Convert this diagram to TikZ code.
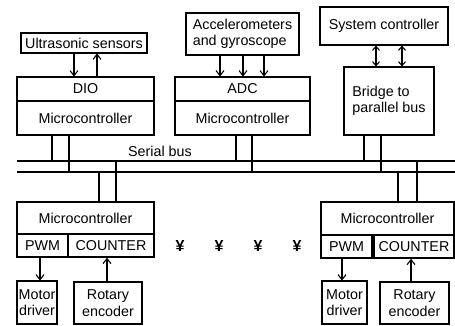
\documentclass[tikz,border=0pt]{standalone}
\usepackage{fontspec}
\setmainfont{Liberation Sans}
\usetikzlibrary{arrows.meta}
\begin{document}
\begin{tikzpicture}[x=1pt,y=-1pt,
  every node/.style={font=\fontsize{14.3}{16.5}\selectfont},
  box/.style={draw, line width=1.1pt, inner sep=1pt, rectangle},
  subbox/.style={draw, line width=1.6pt, inner sep=1pt, rectangle},
  wire/.style={line width=1.1pt},
  arr/.style={line width=1.1pt, -{Straight Barb[length=5pt,width=8pt,line width=1.1pt]}},
  darr/.style={line width=1.1pt, {Straight Barb[length=4pt,width=7pt,line width=1.1pt]}-{Straight Barb[length=4pt,width=7pt,line width=1.1pt]}},
  yenmark/.style={font=\fontsize{16}{18}\selectfont\bfseries}]
\useasboundingbox (0,0) rectangle (455,325);
\clip (0,0) rectangle (455,325);
\fill[white] (0,0) rectangle (455,325);

% upper modules
\node[box, minimum width=126pt, minimum height=20pt] (us) at (84,43) {Ultrasonic sensors};
\node[box, minimum width=137pt, minimum height=24pt] (dio) at (85.5,89) {DIO};
\node[box, minimum width=137pt, minimum height=34pt] (mc1) at (85.5,118) {Microcontroller};

\node[box, minimum width=113pt, minimum height=42pt, align=left] (acc) at (242.5,34) {Accelerometers\\and gyroscope};
\node[box, minimum width=135pt, minimum height=24pt] (adc) at (242.5,89) {ADC};
\node[box, minimum width=135pt, minimum height=34pt] (mc2) at (242.5,118) {Microcontroller};

\node[box, minimum width=128pt, minimum height=38pt] (sys) at (384,26) {System controller};
\node[box, minimum width=90pt, minimum height=68pt, align=left] (bridge) at (389,101) {Bridge to\\parallel bus};

% serial bus
\coordinate (b1w) at (17,161);
\coordinate (b1e) at (455,161);
\coordinate (b2w) at (17,172);
\coordinate (b2e) at (455,172);
\draw[wire] (b1w) -- (b1e);
\draw[wire] (b2w) -- (b2e);
\node (buslabel) at (160,151) {Serial bus};

% lower modules
\node[box, minimum width=137pt, minimum height=32pt] (mc3) at (85.5,218) {Microcontroller};
\node[subbox, minimum width=51pt, minimum height=23pt] (pwm1) at (42.5,245.5) {PWM};
\node[subbox, minimum width=86pt, minimum height=23pt] (cnt1) at (111,245.5) {COUNTER};

\node[box, minimum width=133pt, minimum height=33pt] (mc4) at (387.5,218.5) {Microcontroller};
\node[subbox, minimum width=51pt, minimum height=23pt] (pwm2) at (346.5,246.5) {PWM};
\node[subbox, minimum width=80pt, minimum height=23pt] (cnt2) at (414,246.5) {COUNTER};

\node[box, minimum width=40pt, minimum height=43pt, inner xsep=0pt, align=center] (md1) at (37,302.5) {Motor\\driver};
\node[box, minimum width=68pt, minimum height=42pt, align=center] (re1) at (108,303) {Rotary\\encoder};
\node[box, minimum width=45pt, minimum height=43pt, inner xsep=0pt, align=center] (md2) at (344.5,302.5) {Motor\\driver};
\node[box, minimum width=69pt, minimum height=42pt, align=center] (re2) at (414.5,303) {Rotary\\encoder};

% marks
\node[yenmark] (y1) at (180,246) {¥};
\node[yenmark] (y2) at (219,246) {¥};
\node[yenmark] (y3) at (258,246) {¥};
\node[yenmark] (y4) at (297,246) {¥};

% arrows, top
\draw[arr] (74,0 |- us.south) -- (74,0 |- dio.north);
\draw[arr] (97,0 |- dio.north) -- (97,0 |- us.south);
\draw[arr] (220,0 |- acc.south) -- (220,0 |- adc.north);
\draw[arr] (243,0 |- acc.south) -- (243,0 |- adc.north);
\draw[arr] (264,0 |- acc.south) -- (264,0 |- adc.north);
\draw[darr] (376,0 |- sys.south) -- (376,0 |- bridge.north);
\draw[darr] (402,0 |- sys.south) -- (402,0 |- bridge.north);

% bus connections
\draw[wire] (52,0 |- mc1.south) -- (52,0 |- b1w);
\draw[wire] (69,0 |- mc1.south) -- (69,0 |- b2w);
\draw[wire] (236,0 |- mc2.south) -- (236,0 |- b1w);
\draw[wire] (252,0 |- mc2.south) -- (252,0 |- b2w);
\draw[wire] (364,0 |- bridge.south) -- (364,0 |- b1w);
\draw[wire] (381,0 |- bridge.south) -- (381,0 |- b2w);
\draw[wire] (99,0 |- b2w) -- (99,0 |- mc3.north);
\draw[wire] (116,0 |- b1w) -- (116,0 |- mc3.north);
\draw[wire] (398,0 |- b2w) -- (398,0 |- mc4.north);
\draw[wire] (417,0 |- b1w) -- (417,0 |- mc4.north);

% arrows, bottom
\draw[arr] (40,0 |- pwm1.south) -- (40,0 |- md1.north);
\draw[arr] (107,0 |- re1.north) -- (107,0 |- cnt1.south);
\draw[arr] (342,0 |- pwm2.south) -- (342,0 |- md2.north);
\draw[arr] (411,0 |- re2.north) -- (411,0 |- cnt2.south);
\end{tikzpicture}
\end{document}
